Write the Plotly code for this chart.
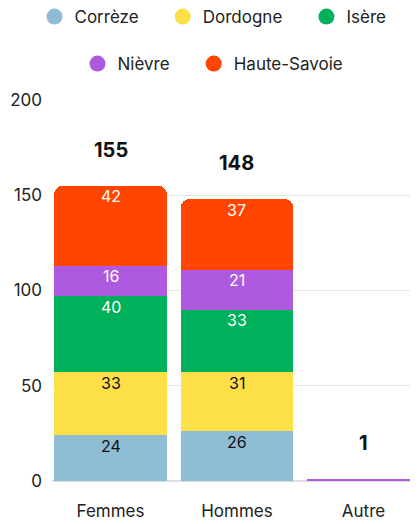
import plotly.graph_objects as go

categories = ["Femmes", "Hommes", "Autre"]
series_names = ["Corrèze", "Dordogne", "Isère", "Nièvre", "Haute-Savoie"]
correze = [24, 26, 0]
dordogne = [33, 31, 0]
isere = [40, 33, 0]
nievre = [16, 21, 1]
haute_savoie = [42, 37, 0]
totals = [155, 148, 1]
y_ticks = [0, 50, 100, 150, 200]

values = [correze, dordogne, isere, nievre, haute_savoie]
colors = ["#8fbdd6", "#fde047", "#00b05a", "#ad5ae0", "#ff4500"]
text_colors = ["#111111", "#111111", "#ffffff", "#ffffff", "#ffffff"]

FONT = "Inter, Roboto, sans-serif"

fig = go.Figure()
for name, vals, col in zip(series_names, values, colors):
    fig.add_trace(go.Bar(
        x=categories, y=vals, name=name, marker=dict(color=col, line=dict(width=0)),
        showlegend=False, hoverinfo="skip",
    ))

# segment labels near the top of each segment
cum = [0] * len(categories)
for vals, tcol in zip(values, text_colors):
    for i, (cat, v) in enumerate(zip(categories, vals)):
        cum[i] += v
        if v >= 5:
            fig.add_annotation(x=cat, y=cum[i], text=str(v), showarrow=False,
                               yanchor="top", yshift=1.5,
                               font=dict(size=16, color=tcol, family=FONT))

# legend entries as circles (two rows)
legend_labels = ["Corrèze\u00a0\u00a0\u00a0\u00a0", "Dordogne\u00a0\u00a0\u00a0\u00a0", "Isère",
                 "Nièvre\u00a0\u00a0\u00a0\u00a0", "Haute-Savoie"]
for i, (name, col) in enumerate(zip(legend_labels, colors)):
    fig.add_trace(go.Scatter(
        x=[None], y=[None], mode="markers", name=name,
        marker=dict(color=col, size=18, symbol="circle"),
        legend="legend" if i < 3 else "legend2",
    ))

for cat, tot in zip(categories, totals):
    fig.add_annotation(x=cat, y=tot, text=f"<b>{tot}</b>", showarrow=False,
                       yanchor="bottom", yshift=22,
                       font=dict(size=20, color="#111111", family=FONT))

W, H = 410, 516
fig.update_layout(
    width=W, height=H,
    barmode="stack", bargap=0.107, barcornerradius=9,
    plot_bgcolor="white", paper_bgcolor="white",
    margin=dict(l=44, r=0, t=92, b=43),
    font=dict(family=FONT, size=16, color="#222222"),
    legend=dict(orientation="h", x=0.5, xanchor="center", xref="container",
                y=1 - 9 / H, yref="container", yanchor="middle", traceorder="normal",
                font=dict(size=17, family=FONT, color="#222222"), itemsizing="trace"),
    legend2=dict(orientation="h", x=0.5, xanchor="center", xref="container",
                 y=1 - 56 / H, yref="container", yanchor="middle", traceorder="normal",
                 font=dict(size=17, family=FONT, color="#222222"), itemsizing="trace"),
    xaxis=dict(showgrid=False, showline=False, ticks="", tickfont=dict(size=17),
               range=[-0.4625, 2.431], ticklabelstandoff=18, automargin=False),
    yaxis=dict(range=[0, 200], tickvals=y_ticks, showgrid=True, gridcolor="#e6e6e6",
               zeroline=True, zerolinecolor="#dddddd", zerolinewidth=2,
               ticks="", tickfont=dict(size=17), ticklabelstandoff=9, automargin=False),
)

fig.write_html("out.html")
